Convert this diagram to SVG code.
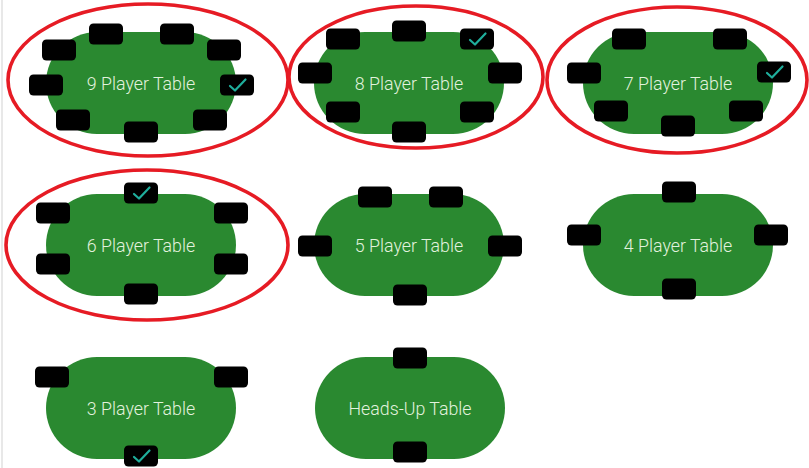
<svg xmlns="http://www.w3.org/2000/svg" width="809" height="468" viewBox="0 0 809 468">
<defs>
<style>
.tbl{fill:#2a8930}
.seat{fill:#000}
.lbl{font-family:Roboto,"Liberation Sans",sans-serif;font-size:17.8px;font-weight:300;fill:#e2f2de;text-anchor:middle}
.chk{fill:none;stroke:#1fae9c;stroke-width:2.2;stroke-linecap:round;stroke-linejoin:round}
.ring{fill:none;stroke:#e61b24;stroke-width:3.6}
</style>
<rect id="s" class="seat" x="-17" y="-10.5" width="34" height="21" rx="4.5"/>
<path id="c" class="chk" d="M-7,1 L-2,5.5 L8.5,-5.5"/>
</defs>
<rect x="0" y="0" width="809" height="468" fill="#fff"/>
<rect x="1" y="0" width="2" height="468" fill="#e8e8e8"/>

<g id="table9">
<rect class="tbl" x="46" y="32" width="190" height="102" rx="51"/>
<use href="#s" x="106" y="34"/><use href="#s" x="177" y="34"/>
<use href="#s" x="59" y="50"/><use href="#s" x="224" y="50"/>
<use href="#s" x="46" y="85"/><use href="#s" x="237" y="85"/><use href="#c" x="237" y="85"/>
<use href="#s" x="73" y="120"/><use href="#s" x="210" y="120"/>
<use href="#s" x="141" y="132"/>
<text class="lbl" x="141" y="90">9 Player Table</text>
<ellipse class="ring" cx="148" cy="80" rx="140" ry="76"/>
</g>

<g id="table8">
<rect class="tbl" x="314" y="32" width="190" height="102" rx="51"/>
<use href="#s" x="409" y="31"/>
<use href="#s" x="343" y="39"/><use href="#s" x="477" y="39"/><use href="#c" x="477" y="39"/>
<use href="#s" x="315" y="73"/><use href="#s" x="505" y="73"/>
<use href="#s" x="343" y="112"/><use href="#s" x="477" y="112"/>
<use href="#s" x="409" y="132"/>
<text class="lbl" x="409" y="90">8 Player Table</text>
<ellipse class="ring" cx="416" cy="77" rx="127" ry="71"/>
</g>

<g id="table7">
<rect class="tbl" x="583" y="32" width="190" height="102" rx="51"/>
<use href="#s" x="629" y="39"/><use href="#s" x="730" y="39"/>
<use href="#s" x="584" y="73"/><use href="#s" x="774" y="72"/><use href="#c" x="774" y="72"/>
<use href="#s" x="611" y="111"/><use href="#s" x="746" y="111"/>
<use href="#s" x="678" y="126"/>
<text class="lbl" x="678" y="90">7 Player Table</text>
<ellipse class="ring" cx="677" cy="80" rx="130" ry="73"/>
</g>

<g id="table6">
<rect class="tbl" x="46" y="194" width="190" height="102" rx="51"/>
<use href="#s" x="141" y="193"/><use href="#c" x="141" y="193"/>
<use href="#s" x="53" y="213"/><use href="#s" x="231" y="213"/>
<use href="#s" x="53" y="264"/><use href="#s" x="231" y="264"/>
<use href="#s" x="141" y="294"/>
<text class="lbl" x="141" y="252">6 Player Table</text>
<ellipse class="ring" cx="147" cy="245" rx="141" ry="75"/>
</g>

<g id="table5">
<rect class="tbl" x="314" y="194" width="190" height="102" rx="51"/>
<use href="#s" x="375" y="197"/><use href="#s" x="446" y="197"/>
<use href="#s" x="315" y="246"/><use href="#s" x="505" y="246"/>
<use href="#s" x="410" y="295"/>
<text class="lbl" x="409" y="252">5 Player Table</text>
</g>

<g id="table4">
<rect class="tbl" x="583" y="194" width="190" height="102" rx="51"/>
<use href="#s" x="679" y="192"/>
<use href="#s" x="584" y="235"/><use href="#s" x="771" y="235"/>
<use href="#s" x="679" y="289"/>
<text class="lbl" x="678" y="252">4 Player Table</text>
</g>

<g id="table3">
<rect class="tbl" x="46" y="357" width="190" height="102" rx="51"/>
<use href="#s" x="52" y="377"/><use href="#s" x="231" y="377"/>
<use href="#s" x="141" y="456"/><use href="#c" x="141" y="456"/>
<text class="lbl" x="141" y="415">3 Player Table</text>
</g>

<g id="tableHU">
<rect class="tbl" x="315" y="357" width="190" height="102" rx="51"/>
<use href="#s" x="410" y="358"/>
<use href="#s" x="410" y="452"/>
<text class="lbl" x="410" y="415">Heads-Up Table</text>
</g>
</svg>
